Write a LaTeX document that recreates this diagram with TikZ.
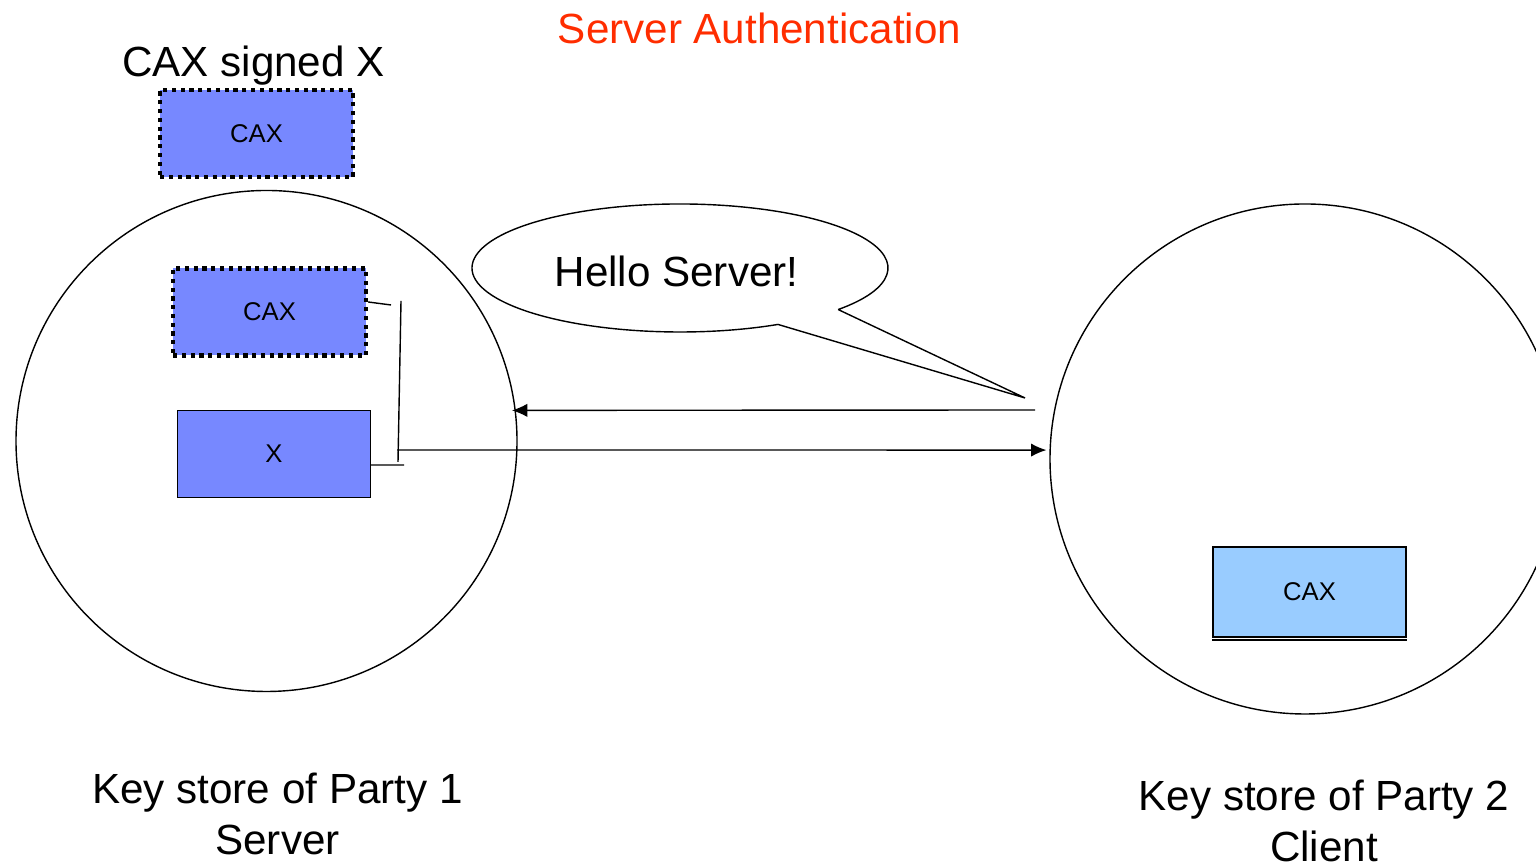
\documentclass[tikz,border=0pt]{standalone}
\usepackage{fontspec}
\setmainfont{Liberation Sans}
\usetikzlibrary{positioning, arrows.meta}
\definecolor{certblue}{RGB}{119,136,255}
\definecolor{lightcert}{RGB}{153,204,255}
\definecolor{titlered}{RGB}{255,45,0}

\begin{document}
\begin{tikzpicture}[
    certbox/.style={draw, fill=certblue, minimum width=1.93cm, minimum height=0.87cm, inner sep=0pt, font=\fontsize{7.3}{9}\selectfont},
    signedbox/.style={certbox, line width=1.2pt, dash pattern=on 1.2pt off 1.3pt},
    bigtext/.style={font=\fontsize{12}{14.5}\selectfont, inner sep=0pt},
    store/.style={draw, circle, inner sep=0pt},
    msg/.style={-{Latex[length=4.4pt,width=3.8pt]}}
]
    \useasboundingbox (0,0) rectangle (15.36,8.67);
    % titles
    \node[bigtext, titlered, anchor=base] (title) at (7.595,8.23) {Server Authentication};
    \node[bigtext, anchor=base] (signed) at (2.535,7.90) {CAX signed X};
    \node[signedbox] (cax1) at (2.565,7.335) {CAX};
    % key stores
    \node[store, minimum size=5.01cm] (ks1) at (2.665,4.26) {};
    \node[store, minimum size=5.10cm] (ks2) at (13.05,4.08) {};
    \node[signedbox] (cax2) at (2.695,5.55) {CAX};
    \node[certbox] (x) at (2.74,4.13) {X};
    \node[certbox, fill=lightcert, minimum height=0.90cm] (cax3) at (13.095,2.75) {CAX};
    \draw ([yshift=-0.7pt]cax3.south west) -- ([yshift=-0.7pt]cax3.south east);
    \node[bigtext, align=center, anchor=north] (party1) at (2.775,0.95) {Key store of Party 1\\Server};
    \node[bigtext, align=center, anchor=north] (party2) at (13.24,0.88) {Key store of Party 2\\Client};
    % bracket joining CAX and X
    \coordinate (b1) at (3.91,5.62);
    \coordinate (b2) at (4.01,5.66);
    \coordinate (b3) at (3.98,4.05);
    \coordinate (b4) at (4.04,4.02);
    \draw ([yshift=0.1cm]cax2.east) -- (b1);
    \draw (b2) -- (b3);
    \draw ([yshift=-0.11cm]x.east) -- (b4);
    % messages
    \coordinate (hellostart) at (10.35,4.57);
    \coordinate (certstart) at (3.97,4.17);
    \draw[msg] (hellostart) -- ([xshift=-0.04cm]ks1.7.1);
    \draw[msg] (certstart) -- ([xshift=-0.03cm]ks2.178);
    % speech bubble
    \coordinate (bubble) at (6.80,5.99);
    \coordinate (tip) at (10.25,4.69);
    \draw ([shift={(-40.5:2.08 and 0.64)}]bubble) -- (tip) -- ([shift={(-61.9:2.08 and 0.64)}]bubble)
        arc[start angle=-61.9, end angle=-400.5, x radius=2.08, y radius=0.64];
    \node[bigtext, anchor=base] (hello) at (6.765,5.80) {Hello Server!};
\end{tikzpicture}
\end{document}
